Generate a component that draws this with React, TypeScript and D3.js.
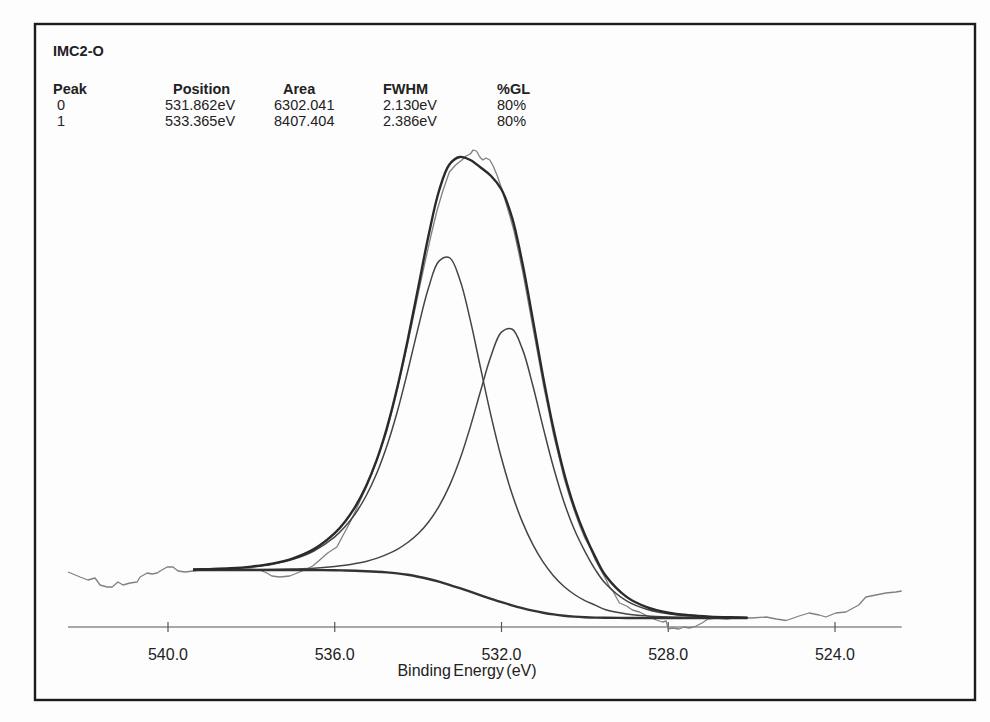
import React from 'react';
import * as d3 from 'd3';

// ---- Fitted curves (binding energy in eV, intensity in a.u.) ----
const fitEnergy = [539.4, 539.0, 538.5, 538.0, 537.5, 537.0, 536.5, 536.0, 535.75, 535.5, 535.25, 535.0, 534.75, 534.5, 534.25, 534.0, 533.75, 533.5, 533.25, 533.0, 532.75, 532.5, 532.25, 532.0, 531.75, 531.5, 531.25, 531.0, 530.75, 530.5, 530.25, 530.0, 529.75, 529.5, 529.0, 528.5, 528.0, 527.5, 527.0, 526.5, 526.1];
const background = [57, 57, 57, 57, 57, 57, 56.9, 56.7, 56.5, 56.2, 55.8, 55.3, 54.6, 53.6, 52.2, 50.3, 48.0, 45.3, 42.2, 38.8, 35.3, 31.7, 28.2, 24.8, 21.7, 18.9, 16.4, 14.3, 12.6, 11.3, 10.4, 9.8, 9.4, 9.2, 9.05, 9, 9, 9, 9, 9, 9];
const peak0Curve = [57.0, 57.0, 57.1, 57.2, 57.5, 58.0, 58.8, 60.5, 61.7, 63.4, 65.6, 68.6, 72.6, 77.7, 84.5, 93.2, 105.0, 120.6, 141.1, 167.4, 199.9, 236.3, 271.2, 294.9, 298.0, 278.1, 241.7, 199.4, 159.2, 124.8, 97.2, 75.7, 57.4, 43.2, 26.1, 17.5, 13.2, 11.2, 10.1, 9.5, 9.3];
const peak1Curve = [57.5, 57.8, 58.6, 60.1, 62.9, 67.7, 76.0, 90.1, 100.4, 113.7, 131.0, 153.0, 181.0, 215.3, 255.7, 299.1, 339.2, 365.9, 369.4, 347.6, 307.1, 258.6, 210.9, 168.7, 133.5, 105.1, 82.6, 64.8, 51.1, 40.5, 32.5, 26.4, 21.9, 17.2, 13.1, 11.1, 10.1, 9.6, 9.3, 9.2, 9.1];
const envelope = [57.5, 57.9, 58.7, 60.4, 63.3, 68.7, 77.9, 93.9, 105.6, 120.9, 140.8, 166.3, 199.0, 239.4, 287.0, 339.0, 391.5, 436.0, 462.5, 470.0, 467.0, 459.5, 451.0, 437.5, 409.8, 364.3, 307.9, 249.9, 197.7, 154.0, 119.3, 92.3, 69.9, 51.2, 30.1, 19.6, 14.3, 11.8, 10.4, 9.7, 9.4];

// ---- Raw spectrum ----
const rawEnergy = [542.40, 542.28, 542.11, 541.92, 541.75, 541.63, 541.46, 541.34, 541.20, 541.08, 540.91, 540.74, 540.67, 540.50, 540.38, 540.26, 540.19, 540.02, 539.88, 539.76, 539.59, 539.40, 539.23, 538.99, 538.75, 538.51, 538.28, 538.04, 537.80, 537.63, 537.51, 537.32, 537.08, 536.84, 536.67, 536.53, 536.36, 536.17, 535.95, 535.81, 535.64, 535.47, 535.33,
  535.20, 535.05, 534.90, 534.75, 534.60, 534.45, 534.30, 534.15, 534.00, 533.85, 533.70, 533.55, 533.40, 533.25, 533.10, 532.95, 532.85, 532.75, 532.68, 532.60, 532.52, 532.45, 532.37, 532.28, 532.20, 532.10, 532.00, 531.90, 531.80, 531.70, 531.60, 531.50, 531.38, 531.25, 531.12, 531.00, 530.87, 530.75, 530.62, 530.50, 530.37, 530.25, 530.12, 530.00, 529.87, 529.75, 529.62, 529.50, 529.41, 529.33, 529.17, 529.00, 528.86, 528.69, 528.45, 528.29, 528.14, 528.05,
  528.00, 527.90, 527.74, 527.62, 527.50, 527.40, 527.33, 527.19, 527.05, 526.85, 526.60, 526.35, 526.00, 525.65, 525.41, 525.17, 524.86, 524.62, 524.38, 524.22, 523.98, 523.74, 523.43, 523.26, 523.02, 522.78, 522.54, 522.40];
const rawIntensity = [55, 53, 50, 47, 49, 42, 40, 40, 45, 42, 44, 45, 50, 54, 53, 54, 56, 60, 60, 56, 55, 56, 57, 58, 57, 57.5, 57, 58, 57, 54, 51, 50, 51, 55, 58, 61, 67, 74, 80, 91, 104, 119, 132,
  144, 160, 177, 196, 221, 247, 274, 303, 333, 362, 390, 416, 437, 455, 462, 467, 471, 473, 477, 476, 470, 467, 469, 467, 461, 451, 439, 425, 411, 396, 377, 357, 330, 300, 271, 243, 217, 192, 170, 149, 131, 116, 101, 89, 79, 67, 57, 48, 40, 36, 24, 21, 17, 15, 10, 7, 5, 6,
  -2, -1, -2, 0, -1, 0, 1, 4, 8, 9, 8, 9.5, 9, 10, 8, 6.5, 11, 14, 12, 10, 14, 15, 22, 30, 32, 34, 35, 36];

// ---- Axis and table text ----
const axisExtent = [542.4, 522.4];
const tickValues = [540, 536, 532, 528, 524];
const xAxisTitle = 'Binding Energy (eV)';
const sampleName = 'IMC2-O';
const tableHeaders = ['Peak', 'Position', 'Area', 'FWHM', '%GL'];
const peakIds = ['0', '1'];
const peakPositions = ['531.862eV', '533.365eV'];
const peakAreas = ['6302.041', '8407.404'];
const peakFwhm = ['2.130eV', '2.386eV'];
const peakGL = ['80%', '80%'];

export default function App() {
  const W = 990, H = 722;
  const x = d3.scaleLinear().domain([540, 524]).range([168, 835]);
  const y = d3.scaleLinear().domain([0, 500]).range([627, 127]);
  const axisY = y(0);

  const fitLine = d3.line<number>()
    .x((_, i) => x(fitEnergy[i]))
    .y((d) => y(d))
    .curve(d3.curveCatmullRom.alpha(0.5));
  const rawLine = d3.line<number>()
    .x((_, i) => x(rawEnergy[i]))
    .y((d) => y(d));
  const fmt = d3.format('.1f');

  const font = '"Liberation Sans", Arial, Helvetica, sans-serif';
  const headerX = [53, 173, 283, 383, 497];
  const valueX = [57, 165, 274, 383, 497];
  const rows = peakIds.map((id, i) => [id, peakPositions[i], peakAreas[i], peakFwhm[i], peakGL[i]]);

  return (
    <svg width={W} height={H} style={{ position: 'absolute', left: 0, top: 0, background: '#fff' }} fontFamily={font}>
      <rect x={0} y={0} width={W} height={H} fill="#fdfdfe" />
      <rect x={35} y={24} width={940} height={676} fill="none" stroke="#1c1c1c" strokeWidth={2.4} />

      <text x={53} y={56} fontSize={14.5} fontWeight="bold" fill="#222">{sampleName}</text>
      {tableHeaders.map((h, i) => (
        <text key={h} x={headerX[i]} y={94} fontSize={14.5} fontWeight="bold" fill="#222">{h}</text>
      ))}
      {rows.map((r, ri) => r.map((v, ci) => (
        <text key={`${ri}-${ci}`} x={valueX[ci]} y={110 + ri * 16} fontSize={14.5} fill="#222">{v}</text>
      )))}

      {/* axis */}
      <line x1={x(axisExtent[0])} x2={x(axisExtent[1])} y1={axisY} y2={axisY} stroke="#555" strokeWidth={1.2} />
      {tickValues.map((t) => (
        <g key={t}>
          <line x1={x(t)} x2={x(t)} y1={axisY - 5} y2={axisY + 5} stroke="#555" strokeWidth={1.2} />
          <text x={x(t)} y={660} textAnchor="middle" fontSize={16} fill="#222">{fmt(t)}</text>
        </g>
      ))}
      <text x={467} y={676} textAnchor="middle" fontSize={16} fill="#222" wordSpacing={-2}>{xAxisTitle}</text>

      {/* curves */}
      <path d={rawLine(rawIntensity) || ''} fill="none" stroke="#808080" strokeWidth={1.3} strokeLinejoin="round" />
      <path d={fitLine(peak0Curve) || ''} fill="none" stroke="#444" strokeWidth={1.5} />
      <path d={fitLine(peak1Curve) || ''} fill="none" stroke="#444" strokeWidth={1.5} />
      <path d={fitLine(background) || ''} fill="none" stroke="#333" strokeWidth={2.4} />
      <path d={fitLine(envelope) || ''} fill="none" stroke="#2a2a2a" strokeWidth={2.4} />
    </svg>
  );
}
